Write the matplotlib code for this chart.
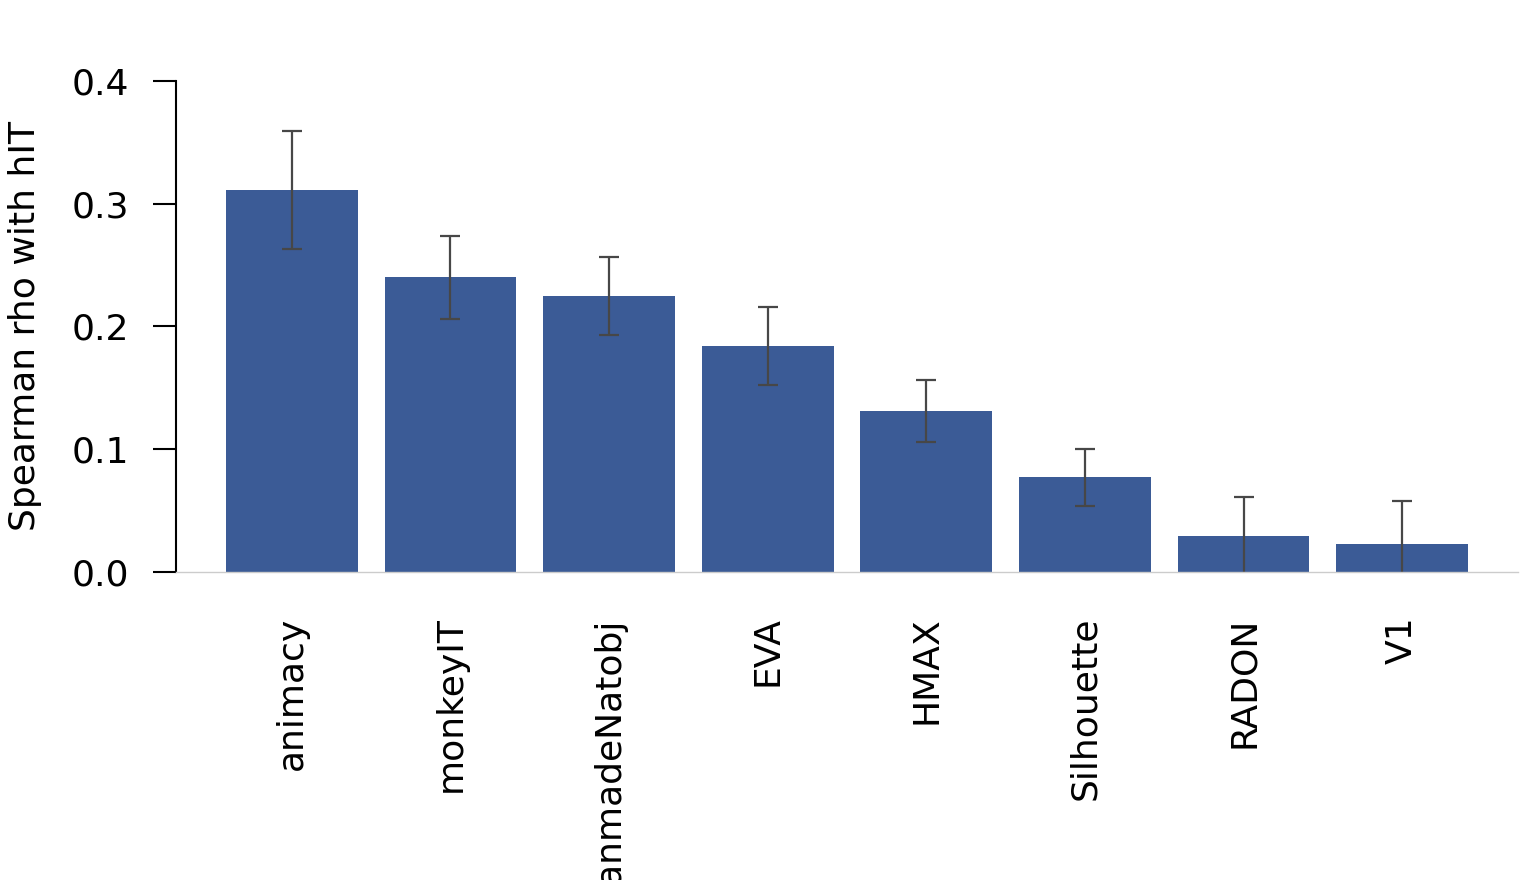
import matplotlib
matplotlib.use("Agg")
import matplotlib.pyplot as plt
import numpy as np

# values
models = ["animacy", "monkeyIT", "manmadeNatobj", "EVA", "HMAX", "Silhouette", "RADON", "V1"]
rho = [0.311, 0.240, 0.225, 0.184, 0.131, 0.077, 0.029, 0.023]
err = [0.048, 0.034, 0.032, 0.032, 0.025, 0.023, 0.032, 0.035]

BAR_COLOR = "#3b5b96"
ERR_COLOR = "#474747"
FONT_SIZE = 26

fig = plt.figure(figsize=(15.4, 8.8), dpi=100)
ax = fig.add_axes([0.1143, 0.35, 0.8714, 0.558])

x = np.arange(len(models))
ax.bar(x, rho, width=0.83, color=BAR_COLOR, zorder=1)
ax.errorbar(x, rho, yerr=err, fmt="none", ecolor=ERR_COLOR, elinewidth=1.6,
            capsize=7, capthick=1.6, zorder=2)

ax.set_xlim(-0.73, len(models) - 1 + 0.73)
ax.set_ylim(0, 0.4)
ax.set_yticks([0.0, 0.1, 0.2, 0.3, 0.4])
ax.set_yticklabels(["0.0", "0.1", "0.2", "0.3", "0.4"])
ax.set_xticks(x)
ax.set_xticklabels(models, rotation=90, va="top", ha="center")

ax.spines["right"].set_visible(False)
ax.spines["top"].set_visible(False)
ax.spines["left"].set_linewidth(1.5)
ax.spines["bottom"].set_color("#cccccc")
ax.spines["bottom"].set_linewidth(1.0)

ax.tick_params(axis="y", length=16.5, width=1.5, pad=17, labelsize=FONT_SIZE)
ax.tick_params(axis="x", length=0, pad=32, labelsize=FONT_SIZE)

ax.set_ylabel("Spearman rho with hIT", fontsize=FONT_SIZE)
ax.yaxis.set_label_coords(-0.1, 0.5)

fig.savefig("out.png", dpi=100)
